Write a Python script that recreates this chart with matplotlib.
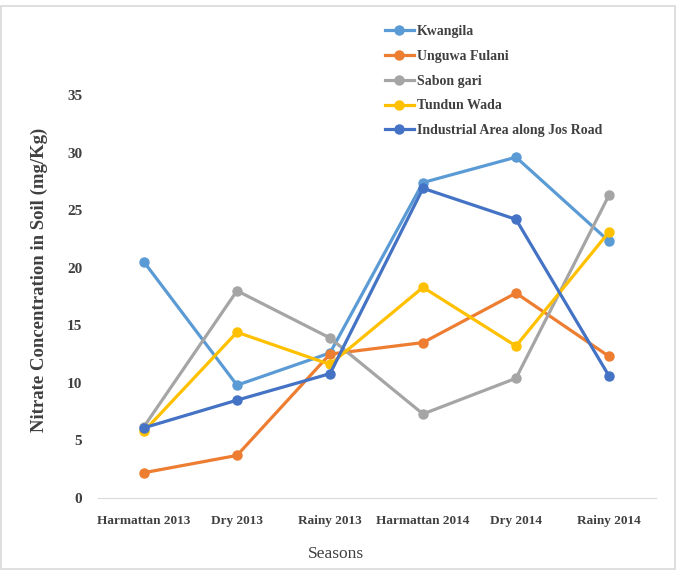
import matplotlib
matplotlib.use("Agg")
import matplotlib.pyplot as plt
from matplotlib.patches import Rectangle
import numpy as np

seasons = ["Harmattan 2013", "Dry 2013", "Rainy 2013", "Harmattan 2014", "Dry 2014", "Rainy 2014"]
kwangila = [20.5, 9.8, 12.6, 27.4, 29.6, 22.3]
unguwa_fulani = [2.2, 3.7, 12.5, 13.5, 17.8, 12.3]
sabon_gari = [6.2, 18.0, 13.9, 7.3, 10.4, 26.3]
tundun_wada = [5.8, 14.4, 11.6, 18.3, 13.2, 23.1]
industrial = [6.1, 8.5, 10.8, 26.9, 24.2, 10.6]

series = [
    ("Kwangila", kwangila, "#5B9BD5"),
    ("Unguwa Fulani", unguwa_fulani, "#ED7D31"),
    ("Sabon gari", sabon_gari, "#A5A5A5"),
    ("Tundun Wada", tundun_wada, "#FFC000"),
    ("Industrial Area along Jos Road", industrial, "#4472C4"),
]

serif = "Liberation Serif"
text_color = "#404040"

fig = plt.figure(figsize=(6.79, 5.71), dpi=100)
ax = fig.add_axes([0.1436, 0.1278, 0.8218, 0.7058])

x = np.arange(len(seasons))
for name, values, color in series:
    ax.plot(x, values, color=color, linewidth=2.3, marker="o", markersize=6.5, label=name)

ax.set_xlim(-0.5, len(seasons) - 0.5)
ax.set_ylim(0, 35)
ax.set_yticks(range(0, 36, 5))
ax.set_xticks(x)
ax.set_xticklabels(seasons)
for side in ["left", "right", "top"]:
    ax.spines[side].set_visible(False)
ax.spines["bottom"].set_color("#D9D9D9")
ax.tick_params(axis="both", length=0, colors=text_color)
ax.tick_params(axis="y", pad=11)
ax.tick_params(axis="x", pad=12)
for lab in ax.get_xticklabels():
    lab.set_fontfamily(serif)
    lab.set_fontweight("bold")
    lab.set_fontsize(9.5)
for lab in ax.get_yticklabels():
    lab.set_fontfamily(serif)
    lab.set_fontweight("bold")
    lab.set_fontsize(11)

ax.set_ylabel("Nitrate Concentration in Soil (mg/Kg)", fontfamily=serif, fontweight="bold",
              fontsize=13.5, color=text_color)
ax.yaxis.set_label_coords(-0.088, 0.541)
ax.set_xlabel("Seasons", fontfamily=serif, fontsize=12.5, color=text_color)
ax.xaxis.set_label_coords(0.427, -0.12)

leg = fig.legend(loc="upper left", bbox_to_anchor=(0.548, 0.978), frameon=False,
                 handlelength=2.1, labelspacing=0.85, handletextpad=0.2,
                 prop={"family": serif, "weight": "bold", "size": 10})
for t in leg.get_texts():
    t.set_color(text_color)

fig.patches.append(Rectangle((0.002, 0.004), 0.992, 0.986, transform=fig.transFigure,
                             fill=False, edgecolor="#D9D9D9", linewidth=1.2))

fig.savefig("out.png", dpi=100)
